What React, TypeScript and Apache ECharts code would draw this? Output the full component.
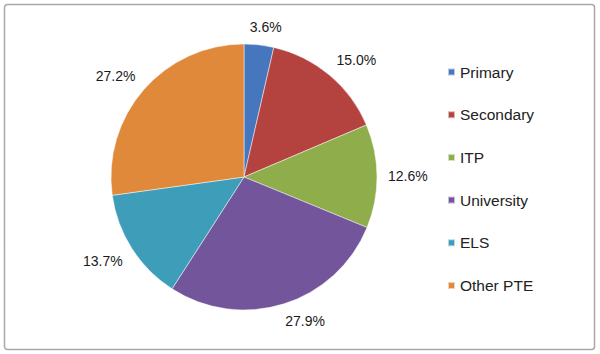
import React, { useEffect, useRef } from "react";
import * as echarts from "echarts";

const categories = ["Primary", "Secondary", "ITP", "University", "ELS", "Other PTE"];
const shares = [3.6, 15.0, 12.6, 27.9, 13.7, 27.2];
const colors = ["#4677be", "#b4433f", "#8fad4b", "#73559b", "#3e9db8", "#e0893a"];

const CX = 244;
const CY = 177;
const R = 133;
const GAP = 11;
const LABEL_SIZE = 14;

export default function App() {
  const ref = useRef<HTMLDivElement>(null);
  useEffect(() => {
    document.body.style.margin = "0";
    const chart = echarts.init(ref.current!, null, { renderer: "svg" });
    const total = shares.reduce((a, b) => a + b, 0);
    const midAngles: number[] = [];
    let acc = 0;
    shares.forEach((v) => {
      midAngles.push(((acc + v / 2) / total) * Math.PI * 2);
      acc += v;
    });
    const soft = (t: number) => Math.max(-1, Math.min(1, t * 3));
    chart.setOption({
      animation: false,
      backgroundColor: "#ffffff",
      graphic: [
        {
          type: "rect",
          z: -10,
          silent: true,
          shape: { x: 4.5, y: 4.5, width: 590, height: 345, r: 3 },
          style: { fill: "#ffffff", stroke: "#a8a8a8", lineWidth: 1.5 },
        },
      ],
      legend: {
        orient: "vertical",
        left: 442,
        top: 59,
        icon: "rect",
        itemWidth: 7,
        itemHeight: 7,
        itemGap: 26.7,
        data: categories,
        textStyle: { fontFamily: "Liberation Sans, Arial, sans-serif", fontSize: 15.5, color: "#222" },
      },
      series: [
        {
          type: "pie",
          center: [CX, CY],
          radius: [0, R],
          startAngle: 90,
          clockwise: true,
          avoidLabelOverlap: false,
          data: categories.map((name, i) => ({ name, value: shares[i], itemStyle: { color: colors[i] } })),
          itemStyle: { borderColor: "rgba(255,255,255,0.6)", borderWidth: 0.8 },
          label: {
            show: true,
            position: "outside",
            formatter: (p: any) => p.value.toFixed(1) + "%",
            fontFamily: "Liberation Sans, Arial, sans-serif",
            fontSize: LABEL_SIZE,
            color: "#1a1a1a",
          },
          labelLine: { show: false, length: 12, length2: 0 },
          labelLayout: (params: any) => {
            const a = midAngles[params.dataIndex];
            const dx = Math.sin(a);
            const dy = -Math.cos(a);
            const w = params.labelRect.width;
            const h = LABEL_SIZE * 0.95;
            const d = R + GAP;
            return {
              x: CX + dx * d + soft(dx) * (w / 2),
              y: CY + dy * d + soft(dy) * (h / 2),
              align: "center",
              verticalAlign: "middle",
            };
          },
        },
      ],
    });
    return () => chart.dispose();
  }, []);
  return <div ref={ref} style={{ width: 600, height: 354 }} />;
}
